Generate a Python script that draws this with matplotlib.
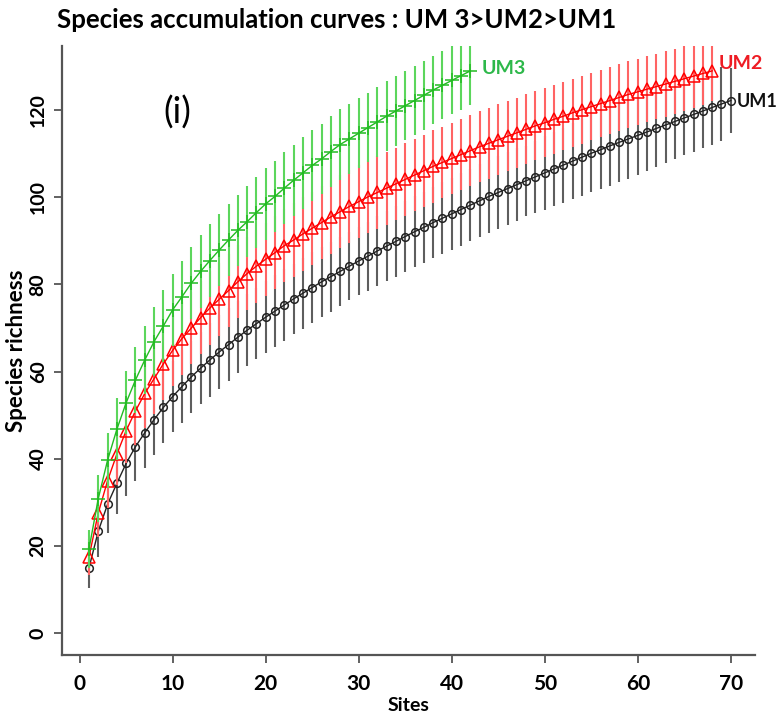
import matplotlib
matplotlib.use('Agg')
import matplotlib.pyplot as plt

# mean species richness per number of sites
sites_um1 = list(range(1, 71))
rich_um1 = [15.0, 23.4, 29.6, 34.4, 39.0, 42.8, 46.0, 49.0, 51.8, 54.3,
            56.6, 58.8, 60.8, 62.7, 64.5, 66.2, 67.9, 69.5, 71.0, 72.5,
            73.9, 75.3, 76.7, 78.0, 79.3, 80.6, 81.8, 83.0, 84.2, 85.4,
            86.5, 87.7, 88.8, 89.9, 91.0, 92.1, 93.1, 94.2, 95.2, 96.2,
            97.2, 98.2, 99.2, 100.2, 101.1, 102.0, 102.9, 103.8, 104.7, 105.6,
            106.5, 107.4, 108.3, 109.2, 110.1, 110.9, 111.8, 112.6, 113.4, 114.2,
            115.0, 115.8, 116.6, 117.4, 118.2, 119.0, 119.8, 120.6, 121.4, 122.2]
err_um1 = [4.7, 5.9, 6.6, 7.0, 7.5, 7.8, 8.0, 8.1, 8.2, 8.2,
           8.3, 8.3, 8.3, 8.4, 8.4, 8.3, 8.3, 8.3, 8.2, 8.2,
           8.2, 8.2, 8.1, 8.1, 8.1, 8.0, 8.0, 7.9, 7.8, 7.8,
           7.9, 8.0, 8.0, 8.1, 8.1, 8.2, 8.2, 8.2, 8.3, 8.3,
           8.3, 8.3, 8.4, 8.4, 8.4, 8.4, 8.3, 8.0, 8.2, 8.4,
           8.5, 8.6, 8.7, 8.8, 8.9, 9.0, 9.1, 9.2, 9.2, 9.1,
           9.0, 8.9, 8.8, 8.7, 8.6, 8.6, 8.5, 8.5, 8.4, 7.4]

sites_um2 = list(range(1, 69))
rich_um2 = [17.5, 27.6, 35.0, 41.1, 46.5, 51.0, 55.0, 58.4, 61.8, 64.9,
            67.6, 70.0, 72.4, 74.6, 76.6, 78.6, 80.6, 82.5, 84.2, 85.8,
            87.3, 88.9, 90.2, 91.6, 92.9, 94.2, 95.5, 96.7, 97.9, 99.0,
            100.1, 101.1, 102.1, 103.1, 104.1, 105.1, 106.1, 107.1, 108.0, 108.9,
            109.8, 110.7, 111.6, 112.4, 113.2, 114.0, 114.8, 115.6, 116.4, 117.1,
            117.9, 118.6, 119.4, 120.1, 120.8, 121.5, 122.2, 122.9, 123.6, 124.2,
            124.8, 125.4, 126.0, 126.6, 127.2, 127.8, 128.4, 129.0]
err_um2 = [4.2, 5.5, 6.3, 7.0, 7.5, 7.8, 8.0, 8.1, 8.2, 8.2,
           8.3, 8.3, 8.3, 8.4, 8.4, 8.4, 8.4, 8.4, 8.4, 8.4,
           8.4, 8.4, 8.4, 8.4, 8.4, 8.4, 8.4, 8.4, 8.4, 8.4,
           8.4, 8.4, 8.4, 8.3, 8.3, 8.3, 8.3, 8.3, 8.2, 8.2,
           8.2, 8.2, 8.1, 8.1, 8.1, 8.0, 8.0, 8.0, 7.9, 7.9,
           7.9, 7.8, 7.8, 7.8, 7.7, 7.7, 7.7, 7.6, 7.6, 7.6,
           7.5, 7.5, 7.5, 7.4, 7.4, 7.3, 7.2, 7.0]

sites_um3 = list(range(1, 43))
rich_um3 = [19.3, 30.9, 39.7, 46.8, 52.9, 58.1, 62.7, 66.9, 70.5, 74.2,
            77.2, 80.3, 83.0, 85.5, 87.9, 90.2, 92.4, 94.4, 96.5, 98.5,
            100.2, 102.1, 103.9, 105.6, 107.3, 108.8, 110.5, 112.1, 113.4, 114.7,
            116.0, 117.3, 118.6, 119.8, 121.0, 122.2, 123.4, 124.6, 125.7, 126.8,
            127.9, 129.0]
err_um3 = [4.4, 5.4, 6.3, 7.1, 7.2, 7.6, 7.8, 7.9, 8.2, 8.3,
           8.3, 8.3, 8.3, 8.3, 8.3, 8.3, 8.2, 8.2, 8.2, 8.2,
           8.2, 8.2, 8.2, 8.2, 8.1, 8.1, 8.1, 8.1, 8.0, 8.0,
           8.0, 8.0, 8.0, 8.0, 7.9, 7.9, 7.9, 7.9, 7.8, 7.8,
           7.8, 7.8]

x_ticks = [0, 10, 20, 30, 40, 50, 60, 70]
y_ticks = [0, 20, 40, 60, 80, 100, 120]

fig = plt.figure(figsize=(7.78, 7.18), dpi=100)
ax = fig.add_axes([0.0797, 0.0877, 0.8907, 0.8482])

series = [
    (sites_um1, rich_um1, err_um1, '#5e5e5e', '#222222', 'o', 5.5, 'UM1'),
    (sites_um2, rich_um2, err_um2, '#ff6464', '#ff0000', '^', 8, 'UM2'),
    (sites_um3, rich_um3, err_um3, '#5cd65c', '#22bb22', '+', 10, 'UM3'),
]
for sx, sy, se, bar_col, line_col, mk, ms, name in series:
    lo = [m - e for m, e in zip(sy, se)]
    hi = [m + e for m, e in zip(sy, se)]
    ax.vlines(sx, lo, hi, colors=bar_col, linewidth=1.5)
    ax.plot(sx, sy, color=line_col, linewidth=1.0, marker=mk, markersize=ms,
            markerfacecolor='none', markeredgecolor=line_col, markeredgewidth=1.1)

ax.text(43.2, 129.5, 'UM3', color='#2db84a', fontsize=14, fontweight='bold',
        family='Lato', va='center', clip_on=False)
ax.text(68.7, 130.8, 'UM2', color='#ee1c24', fontsize=14, fontweight='bold',
        family='Lato', va='center', clip_on=False)
ax.text(70.6, 122.0, 'UM1', color='#111111', fontsize=13, fontweight='bold',
        family='Lato', va='center', clip_on=False)
ax.text(9.0, 119.5, '(i)', fontsize=26, family='Lato', va='center')

ax.set_xlim(-1.9, 72.6)
ax.set_ylim(-5.0, 134.7)
ax.set_xticks(x_ticks)
ax.set_yticks(y_ticks)
ax.set_xticklabels([str(v) for v in x_ticks], fontsize=15, fontweight='bold', family='Lato')
ax.set_yticklabels([str(v) for v in y_ticks], fontsize=14, fontweight='bold', family='Lato',
                   rotation=90, va='center')
ax.tick_params(direction='out', length=6, width=1.3, color='#555555', pad=5)
ax.tick_params(axis='x', pad=8)
for side in ['top', 'right']:
    ax.spines[side].set_visible(False)
for side in ['left', 'bottom']:
    ax.spines[side].set_color('#555555')
    ax.spines[side].set_linewidth(1.6)

ax.set_xlabel('Sites', fontsize=14, fontweight='bold', family='Lato', labelpad=2)
ax.set_ylabel('Species richness', fontsize=16, fontweight='bold', family='Lato', labelpad=2)

fig.text(0.073, 0.972, 'Species accumulation curves : UM 3>UM2>UM1', fontsize=18.5,
         fontweight='bold', family='Lato', va='center', ha='left')

fig.savefig('out.png', dpi=100)
